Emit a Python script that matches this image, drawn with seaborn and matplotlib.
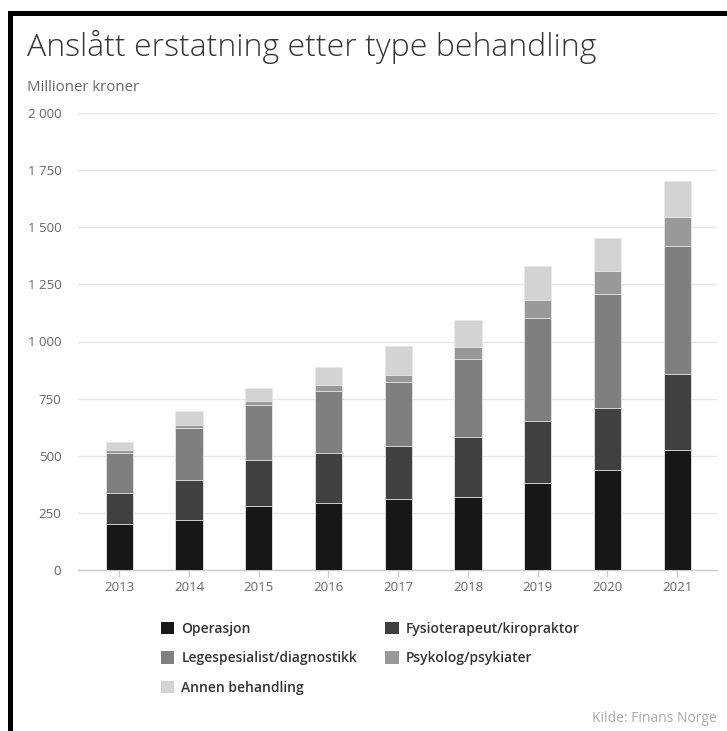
import numpy as np
import pandas as pd
import matplotlib
matplotlib.use("Agg")
import matplotlib.pyplot as plt
import seaborn as sns
from matplotlib.patches import Patch, Rectangle

years = ["2013", "2014", "2015", "2016", "2017", "2018", "2019", "2020", "2021"]
series_names = ["Operasjon", "Fysioterapeut/kiropraktor", "Legespesialist/diagnostikk",
                "Psykolog/psykiater", "Annen behandling"]
operasjon = [200, 219, 282, 292, 311, 321, 381, 438, 523]
fysio = [139, 173, 198, 220, 232, 260, 272, 272, 333]
lege = [173, 229, 244, 273, 280, 344, 449, 500, 564]
psyk = [11, 14, 15, 23, 32, 49, 81, 99, 124]
annen = [35, 59, 58, 79, 127, 122, 147, 145, 157]
colors = ["#171717", "#404040", "#7f7f7f", "#999999", "#d3d3d3"]
yticks = [0, 250, 500, 750, 1000, 1250, 1500, 1750, 2000]
ytick_labels = ["0", "250", "500", "750", "1 000", "1 250", "1 500", "1 750", "2 000"]

sns.set_theme(style="white")
plt.rcParams["font.family"] = ["Open Sans", "DejaVu Sans"]

df = pd.DataFrame({"year": years, series_names[0]: operasjon, series_names[1]: fysio,
                   series_names[2]: lege, series_names[3]: psyk, series_names[4]: annen})
cum = df[series_names].cumsum(axis=1)

fig = plt.figure(figsize=(7.27, 7.31), dpi=100)
ax = fig.add_axes([78 / 727, 1 - 570 / 731, (717 - 78) / 727, (570 - 113) / 731])

for name, col in reversed(list(zip(series_names, colors))):
    sns.barplot(x=df["year"], y=cum[name], color=col, width=0.39, ax=ax,
                edgecolor="#e8e8e8", linewidth=0.6, saturation=1, zorder=3)

ax.set_xlim(-0.59, 8.57)
ax.set_ylim(0, 2000)
ax.set_yticks(yticks)
ax.set_yticklabels(ytick_labels)
ax.set_xlabel("")
ax.set_ylabel("")
for s in ["top", "right", "left"]:
    ax.spines[s].set_visible(False)
ax.spines["bottom"].set_color("#cccccc")
ax.spines["bottom"].set_linewidth(1)
ax.grid(axis="y", color="#e6e6e6", linewidth=1, zorder=0)
ax.set_axisbelow(True)
ax.tick_params(axis="y", length=0, pad=12, labelsize=9.5, labelcolor="#666666")
ax.tick_params(axis="x", length=5, width=1, color="#cccccc", pad=3, labelsize=9.5,
               labelcolor="#666666", bottom=True)

fig.text(27 / 727, 1 - 56 / 731, "Anslått erstatning etter type behandling",
         fontsize=23, color="#333333", va="baseline", ha="left", fontweight="light")
fig.text(27 / 727, 1 - 91 / 731, "Millioner kroner", fontsize=10.8, color="#666666",
         va="baseline", ha="left")
fig.text(717 / 727, 1 - 718 / 731, "Kilde: Finans Norge", fontsize=10, color="#aaaaaa",
         va="center", ha="right")

handles = [Patch(facecolor=c, edgecolor="none") for c in colors]
order = [0, 2, 4, 1, 3]
leg = fig.legend([handles[i] for i in order], [series_names[i] for i in order],
                 ncol=2, loc="upper left", bbox_to_anchor=(148 / 727, 1 - 609 / 731),
                 frameon=False, fontsize=10, handlelength=1.0, handleheight=1.0,
                 handletextpad=0.5, columnspacing=2.0, labelspacing=1.12)
for t in leg.get_texts():
    t.set_color("#333333")
    t.set_fontweight("semibold")

fig.patches.append(Rectangle((8 / 727, 0), 5 / 727, 1 - 11 / 731, transform=fig.transFigure,
                             facecolor="black", edgecolor="none"))
fig.patches.append(Rectangle((8 / 727, 1 - 16 / 731), 1, 5 / 731, transform=fig.transFigure,
                             facecolor="black", edgecolor="none"))

fig.savefig("out.png", dpi=100)
